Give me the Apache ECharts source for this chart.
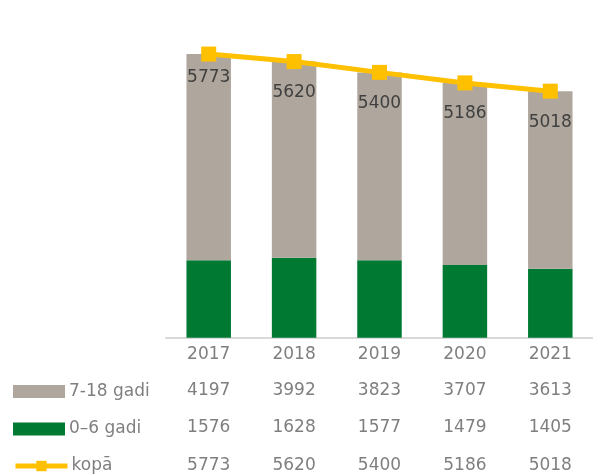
<!DOCTYPE html>
<html><head><meta charset="utf-8">
<script src="https://cdn.jsdelivr.net/npm/echarts@6/dist/echarts.min.js"></script>
<style>html,body{margin:0;padding:0;background:#fff}#c{width:593px;height:475px}</style>
</head><body><div id="c"></div>
<script>
const years = ['2017','2018','2019','2020','2021'];
const age7to18 = [4197, 3992, 3823, 3707, 3613];
const age0to6 = [1576, 1628, 1577, 1479, 1405];
const total = [5773, 5620, 5400, 5186, 5018];
const seriesNames = ['7-18 gadi', '0–6 gadi', 'kopā'];

const FONT = "'DejaVu Sans', sans-serif";
const FS = 17;
const GRAY_TXT = '#7F7F7F';
const chart = echarts.init(document.getElementById('c'), null, {renderer:'canvas'});

function tableAxis(values, offset){
  return {
    type:'category', gridIndex:0, position:'bottom', offset: offset,
    data: values.map(String),
    axisLine:{show:false}, axisTick:{show:false}, splitLine:{show:false},
    axisLabel:{color:GRAY_TXT, fontFamily:FONT, fontSize:FS, margin:8, interval:0}
  };
}
function legendRow(idx, top, icon, extra){
  const item = Object.assign({name:seriesNames[idx]}, icon ? {icon:icon} : {}, extra || {});
  return {
    orient:'horizontal', left:13, top:top, padding:0,
    itemWidth:52, itemHeight:13, itemGap:0,
    textStyle:{color:GRAY_TXT, fontFamily:FONT, fontSize:FS, padding:[0,0,0,-1]},
    data:[item]
  };
}

chart.setOption({
  animation:false,
  grid:{left:166, width:438, top:42.9, bottom:137.3},
  legend:[
    legendRow(0, 383, 'rect'),
    legendRow(1, 420.5, 'rect'),
    legendRow(2, 457.5, null, {lineStyle:{width:5, color:'#FFC000'}, itemStyle:{color:'#FFC000'}})
  ],
  xAxis:[
    {
      type:'category', data:years,
      axisLine:{show:true, lineStyle:{color:'#D9D9D9', width:2}},
      axisTick:{show:false},
      axisLabel:{color:GRAY_TXT, fontFamily:FONT, fontSize:FS, margin:8}
    },
    tableAxis(age7to18, 36),
    tableAxis(age0to6, 73.5),
    tableAxis(total, 111)
  ],
  yAxis:{type:'value', min:0, max:6000, show:false, splitLine:{show:false}},
  series:[
    {
      name:seriesNames[1], type:'bar', stack:'a', barWidth:44.5,
      itemStyle:{color:'#007A33'}, data:age0to6
    },
    {
      name:seriesNames[0], type:'bar', stack:'a', barWidth:44.5,
      itemStyle:{color:'#AFA79D'}, data:age7to18
    },
    {
      name:seriesNames[2], type:'line', z:5,
      symbol:'rect', symbolSize:15,
      lineStyle:{color:'#FFC000', width:5},
      itemStyle:{color:'#FFC000'},
      label:{show:true, position:'bottom', distance:15, color:'#404040', fontFamily:FONT, fontSize:FS},
      data: total.map((v,i)=> i===0 ? {value:v, label:{distance:8}} : v)
    }
  ]
});
</script></body></html>
